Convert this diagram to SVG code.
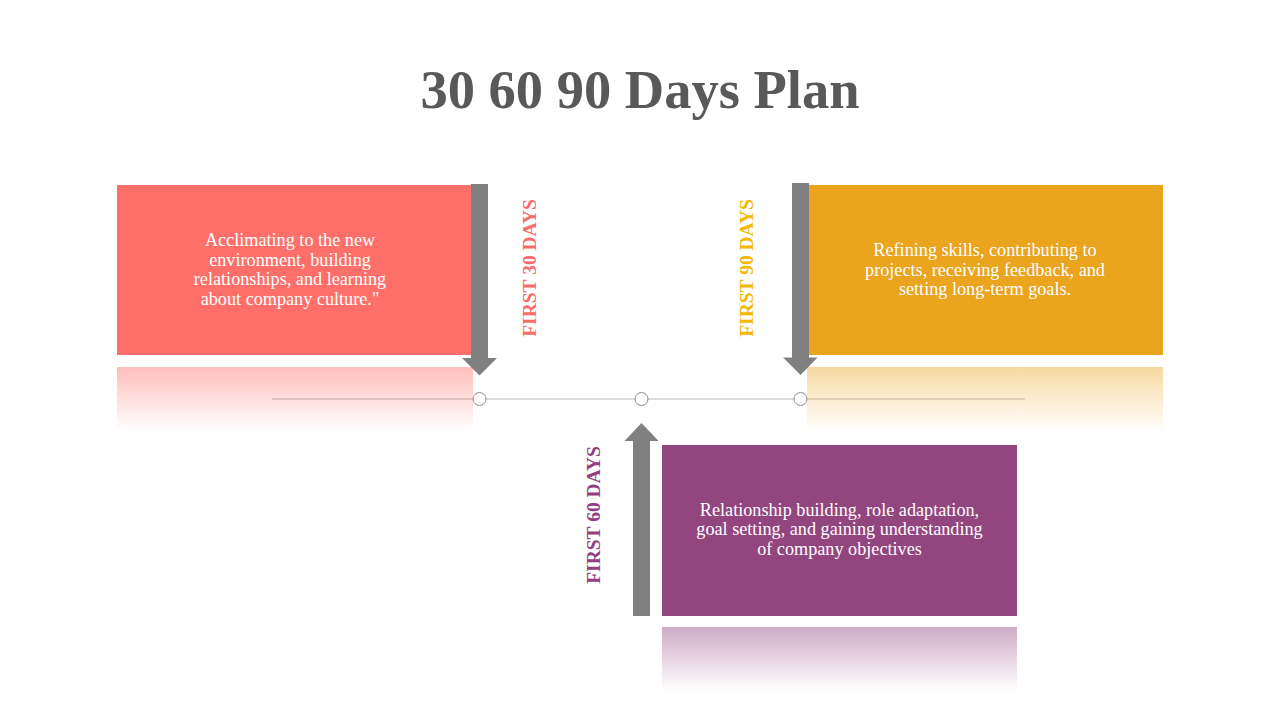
<svg xmlns="http://www.w3.org/2000/svg" width="1280" height="720" viewBox="0 0 1280 720">
<style>
.title{font-family:"Liberation Serif","DejaVu Serif",serif;font-weight:bold;font-size:54.5px;fill:#595959;text-anchor:middle}
.body{font-family:"Liberation Serif","DejaVu Serif",serif;font-size:18.2px;fill:#ffffff;text-anchor:middle}
.label{font-family:"Liberation Serif","DejaVu Serif",serif;font-weight:bold;font-size:19.5px;text-anchor:middle}
.arrow{fill:#808080}
.dot{fill:#ffffff;stroke:#8c8c8c;stroke-width:1}
</style>
<defs>
<linearGradient id="gRed" x1="0" y1="0" x2="0" y2="1">
<stop offset="0" stop-color="#ff6f69" stop-opacity="0.45"/>
<stop offset="1" stop-color="#ff6f69" stop-opacity="0"/>
</linearGradient>
<linearGradient id="gOrange" x1="0" y1="0" x2="0" y2="1">
<stop offset="0" stop-color="#eaa41e" stop-opacity="0.42"/>
<stop offset="1" stop-color="#eaa41e" stop-opacity="0"/>
</linearGradient>
<linearGradient id="gPurple" x1="0" y1="0" x2="0" y2="1">
<stop offset="0" stop-color="#934580" stop-opacity="0.45"/>
<stop offset="1" stop-color="#934580" stop-opacity="0"/>
</linearGradient>
</defs>
<rect width="1280" height="720" fill="#ffffff"/>
<text class="title" x="640" y="108">30 60 90 Days Plan</text>

<g id="connectors">
<line x1="272" y1="399" x2="1025" y2="399" stroke="#b8b8b8" stroke-width="1.2"/>
<circle class="dot" cx="479.5" cy="399" r="6.5"/>
<circle class="dot" cx="641.5" cy="399" r="6.5"/>
<circle class="dot" cx="800.5" cy="399" r="6.5"/>
</g>

<g id="node-30">
<rect x="117" y="185" width="355" height="170" fill="#ff6f69"/>
<rect x="117" y="367" width="356" height="64" fill="url(#gRed)"/>
<text class="body"><tspan x="290" y="246">Acclimating to the new</tspan><tspan x="290" y="265.5">environment, building</tspan><tspan x="290" y="285">relationships, and learning</tspan><tspan x="290" y="304.5">about company culture."</tspan></text>
<path class="arrow" d="M471,184 H488 V358 H497 L479.5,375.5 L462,358 H471 Z"/>
<text class="label" fill="#fa6c6a" transform="translate(536,268) rotate(-90)">FIRST 30 DAYS</text>
</g>

<g id="node-60">
<rect x="662" y="445" width="355" height="171" fill="#934580"/>
<rect x="662" y="627" width="355" height="64" fill="url(#gPurple)"/>
<text class="body"><tspan x="839.5" y="515.5">Relationship building, role adaptation,</tspan><tspan x="839.5" y="535">goal setting, and gaining understanding</tspan><tspan x="839.5" y="554.5">of company objectives</tspan></text>
<path class="arrow" d="M633,616 H650 V441 H658.5 L641.5,423 L624.5,441 H633 Z"/>
<text class="label" fill="#933f7f" transform="translate(600,515) rotate(-90)">FIRST 60 DAYS</text>
</g>

<g id="node-90">
<rect x="808" y="185" width="355" height="170" fill="#eaa41e"/>
<rect x="807" y="367" width="356" height="64" fill="url(#gOrange)"/>
<text class="body"><tspan x="985" y="256">Refining skills, contributing to</tspan><tspan x="985" y="275.5">projects, receiving feedback, and</tspan><tspan x="985" y="295">setting long-term goals.</tspan></text>
<path class="arrow" d="M792,183 H809 V357.5 H817.5 L800.5,375 L783,357.5 H792 Z"/>
<text class="label" fill="#f4b800" transform="translate(753,268) rotate(-90)">FIRST 90 DAYS</text>
</g>
</svg>
